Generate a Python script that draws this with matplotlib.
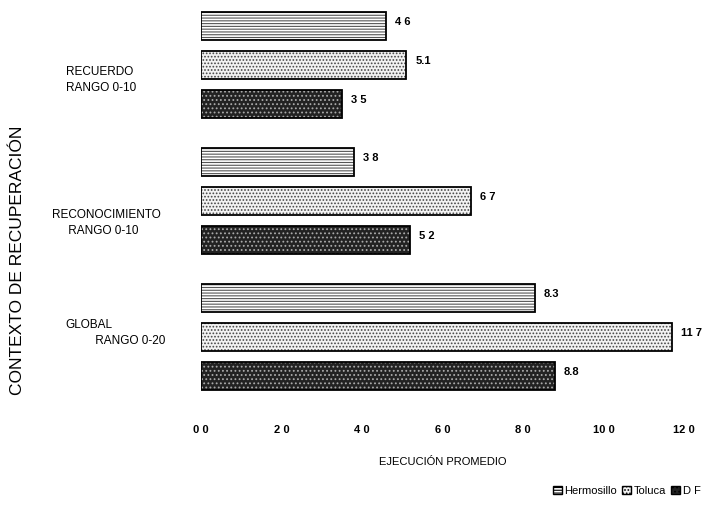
import matplotlib
matplotlib.use('Agg')
import matplotlib.pyplot as plt
from matplotlib.patches import Patch
import numpy as np

plt.rcParams['font.family'] = ['Liberation Sans', 'DejaVu Sans']
plt.rcParams['hatch.linewidth'] = 0.8

# data
groups = ['RECUERDO\nRANGO 0-10', 'RECONOCIMIENTO\n     RANGO 0-10', 'GLOBAL\n         RANGO 0-20']
series = ['Hermosillo', 'Toluca', 'D F']
hermosillo = [4.6, 3.8, 8.3]
toluca = [5.1, 6.7, 11.7]
df_vals = [3.5, 5.2, 8.8]
value_labels = [['4 6', '3 8', '8.3'], ['5.1', '6 7', '11 7'], ['3 5', '5 2', '8.8']]
xticks = [0, 2, 4, 6, 8, 10, 12]
xtick_labels = ['0 0', '2 0', '4 0', '6 0', '8 0', '10 0', '12 0']

fig = plt.figure(figsize=(7.14, 5.16), dpi=100)
ax = fig.add_axes([0.2815, 0.219, 0.6765, 0.771])

# looks of each series: face, hatch, hatch colour
styles = [('white', '------', '#555555'),
          ('#f2f2f2', '.....', '#444444'),
          ('#222222', '....', '#aaaaaa')]
offsets = [-0.287, 0.0, 0.287]
h = 0.206
pos = np.arange(len(groups))

for k, vals in enumerate([hermosillo, toluca, df_vals]):
    face, hatch, hcol = styles[k]
    y = pos + offsets[k]
    ax.barh(y, vals, height=h, color=face, edgecolor='none', zorder=2)
    ax.barh(y, vals, height=h, color='none', edgecolor=hcol, hatch=hatch, linewidth=0, zorder=3)
    ax.barh(y, vals, height=h, color='none', edgecolor='black', linewidth=1.3, zorder=4)
    for yi, v, lab in zip(y, vals, value_labels[k]):
        ax.text(v + 0.22, yi - 0.03, lab, fontsize=8, fontweight='bold', va='center', ha='left')

# category labels on the left
label_x = [-0.28, -0.309, -0.28]
label_y = [0.11, 1.16, 1.97]
for g, lx, ly in zip(groups, label_x, label_y):
    ax.text(lx, ly, g, transform=ax.get_yaxis_transform(), fontsize=8.5,
            ha='left', va='center', linespacing=1.4)

ax.set_xlim(0, 12)
ax.set_ylim(2.485, -0.44)
ax.set_xticks(xticks)
ax.set_xticklabels(xtick_labels, fontsize=8, fontweight='bold')
ax.tick_params(axis='x', length=0, pad=16)
ax.set_yticks([])
for s in ax.spines.values():
    s.set_visible(False)

ax.set_xlabel('EJECUCIÓN PROMEDIO', fontsize=8, labelpad=16)
fig.text(0.025, 0.495, 'CONTEXTO DE RECUPERACIÓN', rotation=90, fontsize=12.5,
         ha='center', va='center')

handles = [Patch(facecolor=styles[i][0], edgecolor='black', hatch=styles[i][1]) for i in range(3)]
fig.legend(handles, series, loc='lower right', bbox_to_anchor=(0.995, 0.02), ncol=3,
           frameon=False, fontsize=8, handlelength=0.8, handleheight=0.8,
           handletextpad=0.2, columnspacing=0.5)

fig.savefig('out.png', dpi=100)
